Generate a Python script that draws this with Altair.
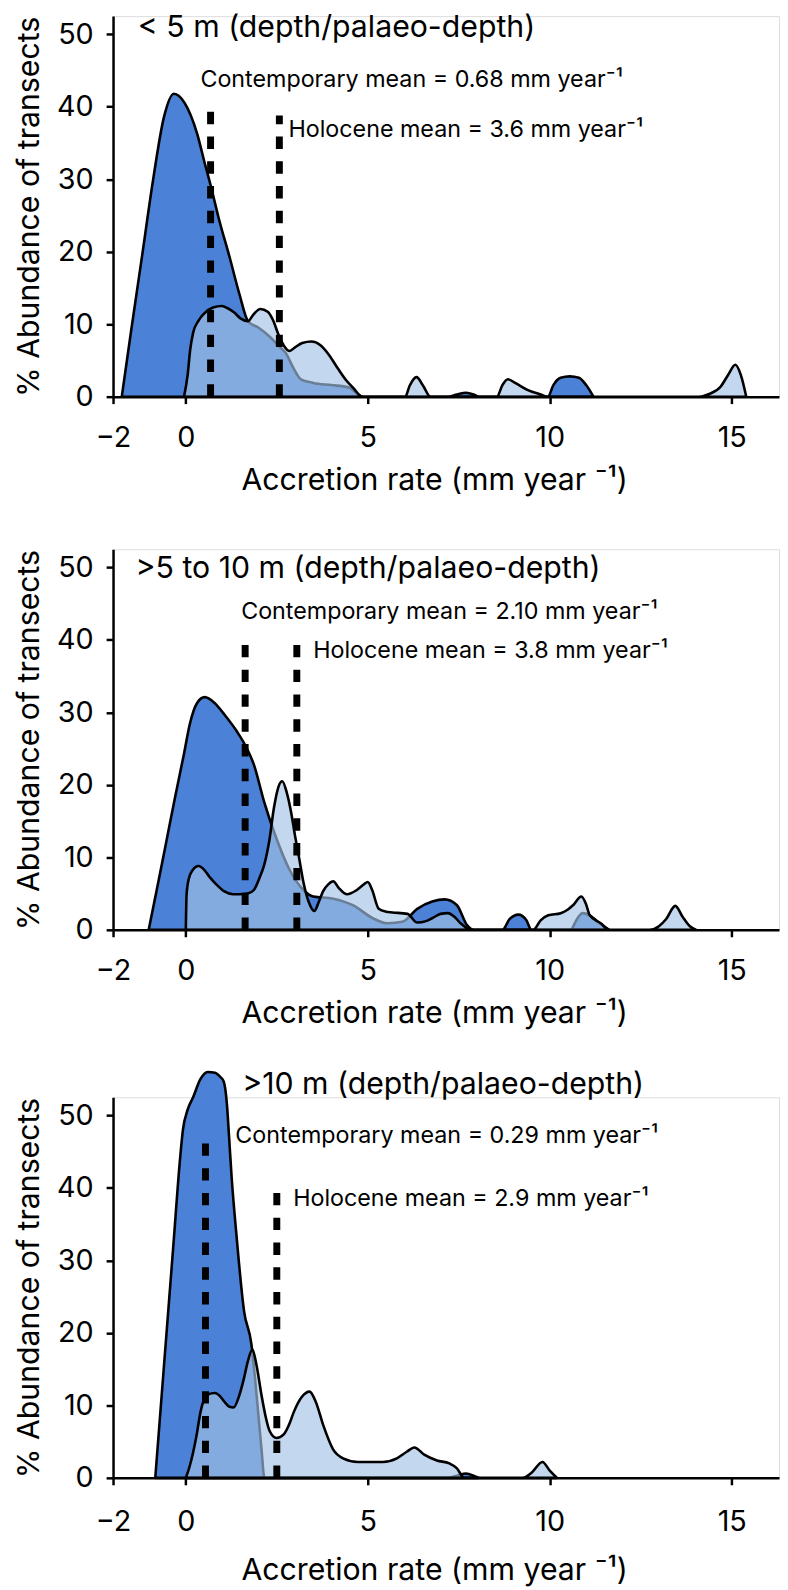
import altair as alt
import pandas as pd

FONT = "Inter"
DARK = "#4b81d6"
LIGHT = "#a3c2e5"

# ---- Panel 1: < 5 m ----
P1_CON_X = [-1.76, -1.5, -1.2, -0.9, -0.6, -0.33, -0.03, 0.31, 0.52, 0.68, 0.92, 1.2, 1.47, 1.71, 2.0, 2.3,
            2.55, 2.75, 2.95, 3.16, 3.5, 4.0, 4.46, 4.87, 7.2, 7.45, 7.7, 7.95, 8.05, 9.95, 10.1, 10.3, 10.55,
            10.8, 11.0, 11.2]
P1_CON_Y = [0, 9.2, 19.5, 29.9, 38.6, 41.8, 40.5, 36.3, 32.2, 29.2, 24.3, 19.3, 14.2, 10.4, 9.5, 8.3,
            7.0, 6.0, 4.0, 2.4, 1.9, 1.6, 1.3, 0, 0, 0.3, 0.55, 0.2, 0, 0, 1.6, 2.6, 2.8,
            2.6, 1.6, 0]
P1_HOL_X = [-0.05, 0.05, 0.12, 0.2, 0.35, 0.51, 0.75, 0.99, 1.15, 1.33, 1.5, 1.71, 1.85, 2.05, 2.25, 2.4,
            2.55, 2.7, 2.85, 3.0, 3.2, 3.45, 3.7, 3.9, 4.15, 4.4, 4.6, 4.85, 6.03, 6.15, 6.34, 6.52, 6.72,
            8.55, 8.7, 8.85, 9.05, 9.4, 9.75, 9.95, 14.1, 14.4, 14.7, 14.9, 15.1, 15.25, 15.4]
P1_HOL_Y = [0, 3, 6.5, 8.8, 10.5, 11.5, 12.3, 12.5, 12.2, 11.6, 10.8, 10.4, 11.3, 12.1, 11.7, 10.5,
            8.5, 7.0, 6.3, 6.8, 7.4, 7.6, 7.1, 6.0, 4.1, 2.3, 1.2, 0, 0, 1.5, 2.7, 1.5, 0,
            0, 1.6, 2.4, 1.9, 0.9, 0.3, 0, 0, 0.4, 1.4, 3.0, 4.4, 3.0, 0]

# ---- Panel 2: >5 to 10 m ----
P2_CON_X = [-1.02, -0.8, -0.57, -0.3, -0.05, 0.11, 0.31, 0.52, 0.79, 1.06, 1.4, 1.67, 1.87, 2.15, 2.49,
            2.83, 3.23, 3.5, 4.05, 4.59, 5.14, 5.54, 5.95, 6.36, 6.77, 7.11, 7.45, 7.72, 7.92, 8.7, 8.9,
            9.14, 9.35, 9.5, 10.57, 10.75, 10.9, 11.1, 11.35, 11.63]
P2_CON_Y = [0, 5.5, 11.3, 18.2, 24.3, 28.4, 31.3, 32.1, 31.3, 29.7, 27.4, 25.1, 22.8, 17.7, 12.6,
            8.5, 5.5, 4.6, 4.3, 3.4, 1.6, 0.9, 1.1, 2.9, 3.9, 4.2, 3.4, 0.7, 0, 0, 1.5,
            2.1, 1.4, 0, 0, 1.5, 2.3, 2.0, 1.0, 0]
P2_HOL_X = [0, 0.02, 0.08, 0.18, 0.35, 0.5, 0.65, 0.85, 1.06, 1.3, 1.47, 1.7, 1.87, 2.05, 2.15, 2.3, 2.42,
            2.55, 2.65, 2.77, 2.89, 3.0, 3.1, 3.23, 3.38, 3.53, 3.65, 3.77, 3.92, 4.05, 4.2, 4.43, 4.7,
            4.9, 5.0, 5.12, 5.3, 5.5, 5.68, 6.09, 6.36, 6.6, 6.77, 7.0, 7.2, 7.4, 7.55, 7.85, 9.55,
            9.75, 9.96, 10.3, 10.5, 10.64, 10.87, 11.0, 11.1, 11.4, 11.63, 12.74, 13.0, 13.2, 13.45,
            13.65, 13.85, 14.03]
P2_HOL_Y = [0, 4.8, 7.0, 8.2, 8.8, 8.3, 7.3, 6.2, 5.3, 4.9, 4.9, 5.0, 5.5, 7.5, 8.9, 12.5, 16.8,
            19.8, 20.5, 19.0, 16.3, 13.0, 10.3, 6.6, 3.8, 2.6, 3.8, 5.3, 6.3, 6.7, 5.8, 4.9, 5.5,
            6.3, 6.6, 5.5, 2.9, 2.5, 2.4, 2.2, 1.0, 1.2, 1.6, 2.2, 2.3, 1.7, 0.9, 0, 0,
            1.3, 2.0, 2.3, 2.8, 3.4, 4.6, 3.5, 2.0, 0.9, 0, 0, 0.5, 1.5, 3.3,
            1.8, 0.5, 0]

# ---- Panel 3: >10 m ----
P3_CON_X = [-0.84, -0.6, -0.35, -0.15, -0.08, 0.05, 0.2, 0.4, 0.6, 0.8, 0.95, 1.04, 1.13, 1.19, 1.26,
            1.4, 1.6, 1.8, 1.9, 2.0, 2.08, 2.16, 7.2, 7.45, 7.7, 7.95, 8.05]
P3_CON_Y = [0, 15.5, 31.6, 44.5, 48, 50.8, 52.5, 55, 56, 55.9, 55.3, 54.7, 51.5, 46.9, 41.4,
            33, 23, 18.5, 13.8, 8.3, 3.9, 0, 0, 0.3, 0.6, 0.2, 0]
P3_HOL_X = [0, 0.1, 0.2, 0.3, 0.4, 0.5, 0.6, 0.8, 0.95, 1.06, 1.2, 1.31, 1.47, 1.6, 1.7, 1.83, 1.94,
            2.08, 2.2, 2.3, 2.49, 2.69, 2.85, 2.96, 3.19, 3.4, 3.57, 3.78, 4.05, 4.32, 4.73, 5.41,
            5.8, 6.07, 6.28, 6.55, 6.9, 7.24, 7.45, 7.65, 9.26, 9.5, 9.8, 10.0, 10.2]
P3_HOL_Y = [0, 1.5, 3.5, 6, 9, 10.8, 11.5, 11.7, 11.2, 10.5, 9.8, 9.7, 11.4, 13.8, 16, 17.7, 15.6,
            11.4, 8.3, 6.5, 5.5, 6, 7.5, 9, 11.2, 11.9, 10.5, 7.2, 3.9, 2.7, 2.2, 2.2,
            2.7, 3.6, 4.2, 3.2, 2.4, 2.0, 1.3, 0, 0, 0.7, 2.2, 1.0, 0]

# mean lines: x position and top of the dashed line
MEAN_X = [[0.68, 2.57], [1.63, 3.05], [0.54, 2.5]]
MEAN_TOP = [[40.9, 38.8], [40.9, 39.7], [46.6, 41.0]]

PANEL_TITLES = ["< 5 m (depth/palaeo-depth)", ">5 to 10 m (depth/palaeo-depth)", ">10 m (depth/palaeo-depth)"]
CON_LABELS = ["Contemporary mean = 0.68 mm year\u207b\u00b9",
              "Contemporary mean = 2.10 mm year\u207b\u00b9",
              "Contemporary mean = 0.29 mm year\u207b\u00b9"]
HOL_LABELS = ["Holocene mean = 3.6 mm year\u207b\u00b9",
              "Holocene mean = 3.8 mm year\u207b\u00b9",
              "Holocene mean = 2.9 mm year\u207b\u00b9"]
# annotation anchors (data units): title, contemporary label, holocene label
TITLE_POS = [(-1.32, 50.8), (-1.38, 49.7), (1.55, 54.2)]
CON_POS = [(0.40, 43.7), (1.52, 43.9), (1.36, 47.1)]
HOL_POS = [(2.82, 36.8), (3.5, 38.4), (2.95, 38.4)]

X_TICKS = [-2, 0, 5, 10, 15]
Y_TICKS = [0, 10, 20, 30, 40, 50]
X_TITLE = "Accretion rate (mm year \u207b\u00b9)"
Y_TITLE = "% Abundance of transects"

CURVES = [(P1_CON_X, P1_CON_Y, P1_HOL_X, P1_HOL_Y),
          (P2_CON_X, P2_CON_Y, P2_HOL_X, P2_HOL_Y),
          (P3_CON_X, P3_CON_Y, P3_HOL_X, P3_HOL_Y)]

W, H = 672, 384
xscale = alt.Scale(domain=[-2, 16.3], nice=False)
yscale = alt.Scale(domain=[0, 52.5], nice=False)


def panel(i, label_pad=20, title_pad=14):
    cx, cy, hx, hy = CURVES[i]
    con = pd.DataFrame({"x": cx, "y": cy})
    hol = pd.DataFrame({"x": hx, "y": hy})
    means = pd.DataFrame({"x": MEAN_X[i], "top": MEAN_TOP[i]})
    xaxis = alt.Axis(values=X_TICKS, tickSize=7, tickWidth=2.5, tickColor="black", domainColor="black",
                     domainWidth=2.5, labelFont=FONT, labelFontSize=29, labelColor="black",
                     labelPadding=label_pad, labelFlush=False, titleFont=FONT, titleFontSize=30.5,
                     titleFontWeight="normal", titleColor="black", titlePadding=title_pad, titleX=324,
                     grid=False)
    yaxis = alt.Axis(values=Y_TICKS, tickSize=7, tickWidth=2.5, tickColor="black", domainColor="black",
                     domainWidth=2.5, labelFont=FONT, labelFontSize=29, labelColor="black",
                     labelPadding=13, titleFont=FONT, titleFontSize=30.5, titleFontWeight="normal",
                     titleColor="black", titlePadding=12, grid=False)
    a_con = alt.Chart(con).mark_area(interpolate="monotone", fill=DARK, fillOpacity=1, stroke="black",
                                     strokeWidth=2.6, strokeJoin="round").encode(
        x=alt.X("x:Q", scale=xscale, axis=xaxis, title=X_TITLE),
        y=alt.Y("y:Q", scale=yscale, axis=yaxis, title=Y_TITLE))
    a_hol = alt.Chart(hol).mark_area(interpolate="monotone", fill=LIGHT, fillOpacity=0.65, stroke="black",
                                     strokeWidth=2.6, strokeJoin="round").encode(
        x=alt.X("x:Q", scale=xscale), y=alt.Y("y:Q", scale=yscale))
    rules = alt.Chart(means).transform_calculate(zero="0").mark_rule(
        color="black", strokeWidth=7, strokeDash=[12.5, 12.5]).encode(
        x=alt.X("x:Q", scale=xscale), y=alt.Y("zero:Q", scale=yscale), y2="top:Q")
    texts = pd.DataFrame({
        "x": [CON_POS[i][0], HOL_POS[i][0]],
        "y": [CON_POS[i][1], HOL_POS[i][1]],
        "label": [CON_LABELS[i], HOL_LABELS[i]],
    })
    t_ann = alt.Chart(texts).mark_text(align="left", baseline="middle", font=FONT, fontSize=23.5,
                                       color="black").encode(
        x=alt.X("x:Q", scale=xscale), y=alt.Y("y:Q", scale=yscale), text="label:N")
    tdf = pd.DataFrame({"x": [TITLE_POS[i][0]], "y": [TITLE_POS[i][1]], "label": [PANEL_TITLES[i]]})
    t_title = alt.Chart(tdf).mark_text(align="left", baseline="middle", font=FONT, fontSize=30.5,
                                       color="black").encode(
        x=alt.X("x:Q", scale=xscale), y=alt.Y("y:Q", scale=yscale), text="label:N")
    return alt.layer(a_con, a_hol, rules, t_ann, t_title).properties(width=W, height=H)


top_two = alt.vconcat(panel(0), panel(1), spacing=52)
chart = alt.vconcat(top_two, panel(2, label_pad=23, title_pad=20), spacing=40).properties(
    padding={"left": 6, "top": -3, "right": 0, "bottom": 0}
).configure_view(stroke=None).configure(background="white")

chart.save("out.html", embed_options={"renderer": "svg", "actions": False})
